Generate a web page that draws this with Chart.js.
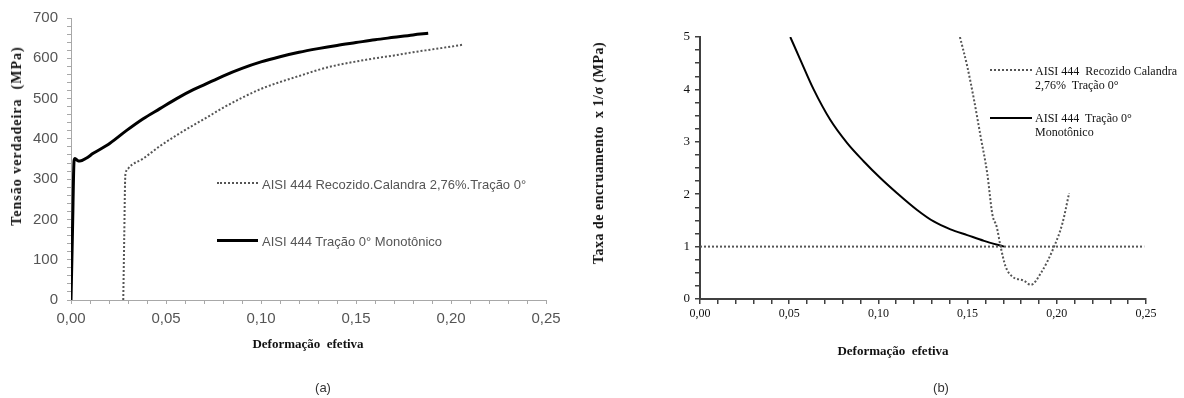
<!DOCTYPE html>
<html>
<head>
<meta charset="utf-8">
<script src="https://cdn.jsdelivr.net/npm/chart.js@4.4.0/dist/chart.umd.min.js"></script>
<style>
    body { margin: 0; background: #fff; }
    #wrap { position: relative; width: 1184px; height: 398px; overflow: hidden; }
    canvas { position: absolute; top: 0; }
    .lbl { position: absolute; white-space: pre; line-height: 1; }
    .title { font-family: "Liberation Serif", serif; font-weight: bold; color: #111; transform: translate(-50%, -50%); }
    .rot { transform: translate(-50%, -50%) rotate(-90deg); }
    .sample { position: absolute; height: 0; }
</style>
</head>
<body>
<div id="wrap">
    <canvas id="chartA" width="580" height="398" style="left:0"></canvas>
    <canvas id="chartB" width="604" height="398" style="left:580px"></canvas>

    <!-- axis titles -->
    <div class="lbl title rot" style="left:17px; top:136px; font-size:14px; letter-spacing:1px;">Tensão verdadeira  (MPa)</div>
    <div class="lbl title" style="left:308px; top:343px; font-size:13px;">Deformação  efetiva</div>
    <div class="lbl title rot" style="left:599px; top:153px; font-size:14px; letter-spacing:0.5px;">Taxa de encruamento  x 1/σ (MPa)</div>
    <div class="lbl title" style="left:893px; top:350px; font-size:13px;">Deformação  efetiva</div>

    <!-- legend (a) -->
    <div class="sample" style="left:217px; top:182px; width:41px; border-top:2px dotted #555;"></div>
    <div class="lbl" style="left:262px; top:177px; font:13px 'Liberation Sans', sans-serif; color:#555;">AISI 444 Recozido.Calandra 2,76%.Tração 0°</div>
    <div class="sample" style="left:217px; top:239px; width:41px; border-top:3px solid #000;"></div>
    <div class="lbl" style="left:262px; top:234px; font:13px 'Liberation Sans', sans-serif; color:#555;">AISI 444 Tração 0° Monotônico</div>

    <!-- legend (b) -->
    <div class="sample" style="left:990px; top:69px; width:42px; border-top:2px dotted #555;"></div>
    <div class="lbl" style="left:1035px; top:64px; font:12px 'Liberation Serif', serif; color:#111; line-height:14px;">AISI 444  Recozido Calandra
2,76%  Tração 0°</div>
    <div class="sample" style="left:990px; top:117px; width:42px; border-top:2px solid #000;"></div>
    <div class="lbl" style="left:1035px; top:111px; font:12px 'Liberation Serif', serif; color:#111; line-height:14px;">AISI 444  Tração 0°
Monotônico</div>

    <!-- captions -->
    <div class="lbl" style="left:323px; top:387px; transform:translate(-50%,-50%); font:13px 'Liberation Sans', sans-serif; color:#333;">(a)</div>
    <div class="lbl" style="left:941px; top:387px; transform:translate(-50%,-50%); font:13px 'Liberation Sans', sans-serif; color:#333;">(b)</div>
</div>

<script>
// (a) true stress vs effective strain
const monoStrain = [0, 0.0008, 0.0016, 0.0021, 0.0035, 0.0047, 0.008, 0.0117, 0.0205, 0.0293, 0.038, 0.0468, 0.0556, 0.0644, 0.07, 0.08, 0.09, 0.10, 0.11, 0.12, 0.13, 0.14, 0.15, 0.16, 0.17, 0.18, 0.188];
const monoStress = [0, 175, 345, 351, 346, 345, 352, 364, 389, 421, 450, 475, 500, 522, 534, 556, 575, 591, 604, 615, 624, 632, 639, 646, 652, 658, 662];

const calStrain = [0.0275, 0.028, 0.0285, 0.0288, 0.0302, 0.038, 0.0468, 0.0556, 0.0644, 0.07, 0.08, 0.09, 0.10, 0.11, 0.12, 0.13, 0.14, 0.15, 0.16, 0.17, 0.18, 0.19, 0.20, 0.2066];
const calStress = [0, 150, 300, 315, 327, 351, 382, 409, 434, 449, 477, 502, 524, 541, 556, 571, 583, 592, 600, 607, 615, 622, 629, 634];

// (b) hardening rate x 1/sigma vs effective strain
const monoRateStrain = [0.0506, 0.0562, 0.0637, 0.073, 0.0824, 0.0917, 0.1011, 0.1105, 0.1217, 0.131, 0.1404, 0.1498, 0.1592, 0.1704];
const monoRate = [5.0, 4.57, 4.0, 3.42, 2.98, 2.63, 2.31, 2.02, 1.70, 1.48, 1.33, 1.22, 1.11, 1.0];

const calRateStrain = [0.1457, 0.1498, 0.1536, 0.1573, 0.161, 0.1639, 0.1663, 0.1685, 0.1713, 0.175, 0.1816, 0.1854, 0.191, 0.1985, 0.2032, 0.2069];
const calRate = [5.0, 4.44, 3.80, 3.10, 2.40, 1.61, 1.38, 1.0, 0.62, 0.43, 0.35, 0.27, 0.49, 1.0, 1.45, 2.02];

const refStrain = [0, 0.249];
const refRate = [1, 1];

const xTicksA = [0, 0.05, 0.10, 0.15, 0.20, 0.25];
const yTicksA = [0, 100, 200, 300, 400, 500, 600, 700];
const yTicksB = [0, 1, 2, 3, 4, 5];

function pts(xs, ys) {
    return xs.map(function (x, i) { return { x: x, y: ys[i] }; });
}

function strainLabel(v) {
    // label only every 0.05
    const k = Math.round(v * 100);
    return k % 5 === 0 ? (k / 100).toFixed(2).replace('.', ',') : '';
}

Chart.defaults.animation = false;

new Chart(document.getElementById('chartA'), {
    type: 'scatter',
    data: {
        datasets: [
            { data: pts(calStrain, calStress), showLine: true, borderColor: '#555', borderWidth: 2, borderDash: [2, 2], pointRadius: 0, cubicInterpolationMode: 'monotone' },
            { data: pts(monoStrain, monoStress), showLine: true, borderColor: '#000', borderWidth: 3, pointRadius: 0, cubicInterpolationMode: 'monotone' }
        ]
    },
    options: {
        responsive: false,
        layout: { padding: { left: 0, right: 34, top: 17, bottom: 58 } },
        plugins: { legend: { display: false }, tooltip: { enabled: false } },
        scales: {
            x: {
                type: 'linear', min: xTicksA[0], max: xTicksA[xTicksA.length - 1],
                afterFit: function (s) { s.height = 40; },
                border: { color: '#a8a8a8', width: 1 },
                grid: { drawOnChartArea: false, tickLength: 4, color: '#a8a8a8' },
                ticks: { stepSize: 0.01, autoSkip: false, maxRotation: 0, padding: 6, color: '#555', font: { family: 'Liberation Sans', size: 15 }, callback: strainLabel }
            },
            y: {
                min: yTicksA[0], max: yTicksA[yTicksA.length - 1],
                afterFit: function (s) { s.width = 71; },
                border: { color: '#a8a8a8', width: 1 },
                grid: { drawOnChartArea: false, tickLength: 4, color: '#a8a8a8' },
                ticks: { stepSize: 20, autoSkip: false, padding: 9, color: '#555', font: { family: 'Liberation Sans', size: 15 },
                    callback: function (v) { return yTicksA.includes(v) ? v : ''; } }
            }
        }
    }
});

new Chart(document.getElementById('chartB'), {
    type: 'scatter',
    data: {
        datasets: [
            { data: pts(refStrain, refRate), showLine: true, borderColor: '#555', borderWidth: 2, borderDash: [2, 2], pointRadius: 0 },
            { data: pts(calRateStrain, calRate), showLine: true, borderColor: '#555', borderWidth: 2, borderDash: [2, 2], pointRadius: 0, cubicInterpolationMode: 'monotone' },
            { data: pts(monoRateStrain, monoRate), showLine: true, borderColor: '#000', borderWidth: 2, pointRadius: 0, cubicInterpolationMode: 'monotone' }
        ]
    },
    options: {
        responsive: false,
        layout: { padding: { left: 0, right: 38, top: 37, bottom: 59 } },
        plugins: { legend: { display: false }, tooltip: { enabled: false } },
        scales: {
            x: {
                type: 'linear', min: 0, max: 0.25,
                afterFit: function (s) { s.height = 40; },
                border: { color: '#404040', width: 2 },
                grid: { drawOnChartArea: false, tickLength: 5, color: '#404040', lineWidth: 1.5 },
                ticks: { stepSize: 0.01, autoSkip: false, maxRotation: 0, padding: 3, color: '#111', font: { family: 'Liberation Serif', size: 12 }, callback: strainLabel }
            },
            y: {
                min: yTicksB[0], max: yTicksB[yTicksB.length - 1],
                afterFit: function (s) { s.width = 120; },
                border: { color: '#404040', width: 2 },
                grid: { drawOnChartArea: false, tickLength: 5, color: '#404040', lineWidth: 1.5 },
                ticks: { stepSize: 0.25, autoSkip: false, padding: 5, color: '#111', font: { family: 'Liberation Serif', size: 13 },
                    callback: function (v) { return yTicksB.includes(v) ? v : ''; } }
            }
        }
    }
});
</script>
</body>
</html>
